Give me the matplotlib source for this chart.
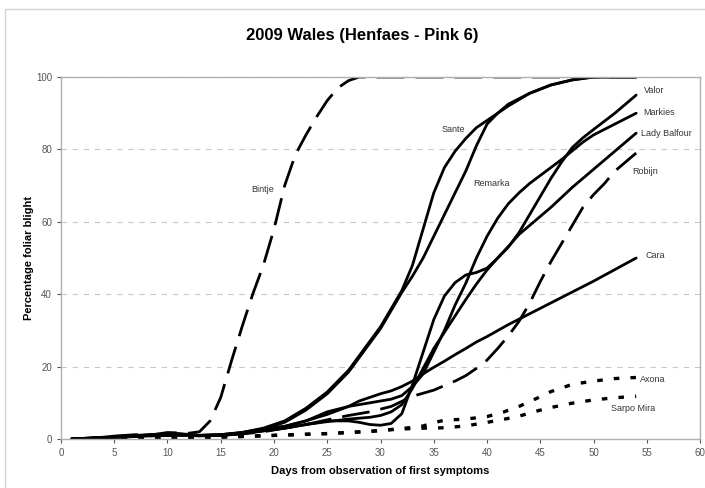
import matplotlib
matplotlib.use("Agg")
from matplotlib import pyplot as plt
from matplotlib.patches import Rectangle

plt.rcParams['font.family'] = ['Liberation Sans', 'DejaVu Sans']
plt.rcParams['lines.scale_dashes'] = False

# Days after first symptoms and blight (%) per variety
early_days = [1, 3, 5, 7, 9, 11, 13, 15, 17, 19]

sante_days = early_days + [21, 23, 25, 27, 29, 30, 31, 32, 33, 34, 35, 36, 37, 38, 39, 40, 42, 44, 46, 48, 50, 54]
sante = [0, 0.2, 0.5, 0.8, 1.0, 1.1, 1.0, 1.2, 1.8, 3.0,
         5, 8.5, 13, 19, 27, 31, 36, 41, 48, 58, 68, 75, 79.5, 83, 86, 88, 92, 95.5, 97.8, 99.2, 100, 100]

remarka_days = early_days + [21, 23, 25, 27, 29, 30, 31, 32, 33, 34, 35, 36, 37, 38, 39, 40, 41, 42, 44, 46, 48, 50, 54]
remarka = [0, 0.2, 0.6, 0.9, 1.2, 1.3, 1.0, 1.1, 1.7, 2.8,
           4.6, 8, 12.5, 18.5, 26.5, 30.5, 35.5, 40.5, 45, 50, 56, 62, 68, 74, 81, 87, 90, 92.5, 95.5, 97.8, 99.2, 100, 100]

valor_days = early_days + [21, 23, 25, 27, 28, 29, 30, 31, 32, 33, 34, 35, 36, 37, 38, 39, 40, 41, 42, 43, 44, 45, 46, 47, 48, 49, 50, 52, 54]
valor = [0, 0.2, 0.5, 0.8, 1.0, 1.0, 0.9, 1.0, 1.5, 2.2,
         3, 4, 5, 5, 4.6, 4, 3.8, 4.3, 7, 15, 24, 33, 39.5, 43.2, 45.3, 46, 47.2, 50, 53, 57, 62, 67, 72, 76.5, 80.5, 83.2, 85.5, 90, 95]

markies_days = early_days + [21, 23, 25, 27, 29, 30, 31, 32, 33, 34, 35, 36, 37, 38, 39, 40, 41, 42, 43, 44, 45, 46, 47, 48, 49, 50, 52, 54]
markies = [0, 0.3, 0.7, 1.0, 1.3, 1.5, 1.0, 1.1, 1.6, 2.6,
           3.5, 5, 7.5, 9, 10, 10.5, 11, 12, 14.5, 18, 24, 30, 37, 43, 50, 56, 61, 65, 68, 70.6, 72.8, 75, 77.2, 79.6, 82, 84, 87, 90]

balfour_days = early_days + [21, 23, 25, 27, 29, 30, 31, 32, 33, 34, 35, 36, 37, 38, 39, 40, 41, 42, 43, 44, 46, 48, 50, 52, 54]
balfour = [0, 0.2, 0.5, 0.7, 1.0, 1.2, 0.9, 1.0, 1.5, 2.3,
           3, 4, 4.8, 5.5, 6, 6.5, 7.5, 9.5, 14, 19.5, 25, 29.5, 34, 38.5, 42.8, 46.7, 50, 53.2, 56.5, 59, 64, 69.5, 74.5, 79.5, 84.5]

cara_days = early_days + [21, 23, 25, 27, 28, 29, 30, 31, 32, 33, 34, 35, 36, 37, 38, 39, 40, 42, 44, 46, 48, 50, 52, 54]
cara = [0, 0.3, 0.6, 0.9, 1.2, 1.4, 1.0, 1.2, 1.8, 2.8,
        3.5, 5, 6.8, 9, 10.5, 11.5, 12.5, 13.3, 14.5, 16, 18, 19.8, 21.5, 23.3, 25, 26.8, 28.3, 31.6, 34.6, 37.6, 40.6, 43.6, 46.8, 50]

robijn_days = early_days + [21, 23, 25, 27, 29, 31, 33, 35, 37, 38, 39, 40, 41, 42, 43, 44, 45, 46, 47, 48, 49, 50, 51, 52, 53, 54]
robijn = [0, 0.2, 0.4, 0.7, 0.9, 1.0, 0.9, 1.0, 1.4, 2.0,
          3, 4, 5.3, 6.5, 7.5, 9, 11.8, 13.5, 16, 17.5, 19.5, 21.8, 25, 28.5, 32.5, 37.5, 43.5, 49, 54, 59, 64, 67.5, 70.5, 74, 76.5, 79]

bintje_days = [1, 3, 5, 7, 8, 10, 12, 13, 14, 15, 16, 17, 18, 19, 20, 21, 22, 23, 24, 25, 26, 27, 28, 30, 54]
bintje = [0, 0.3, 0.8, 1.2, 0.9, 1.8, 1.6, 2, 5, 11.5, 21.5, 31, 40, 48, 58, 70, 78.5, 84, 89, 93.5, 97, 99, 100, 100, 100]

axona_days = [1, 5, 10, 13, 15, 17, 19, 21, 23, 25, 27, 29, 31, 33, 34, 35, 36, 38, 40, 41.5, 43, 44.5, 46, 48, 50, 52, 54]
axona = [0, 0.2, 0.2, 0.3, 0.5, 0.7, 0.9, 1.1, 1.3, 1.5, 1.8, 2.1, 2.6, 3.2, 3.6, 4.5, 5.2, 5.5, 6.2, 7.4, 9, 11, 13.1, 15.1, 16, 16.7, 17]

sarpo_days = [1, 5, 10, 13, 15, 17, 19, 21, 23, 25, 27, 29, 31, 33, 34, 36, 38, 40, 41.5, 43, 44.5, 46, 48, 50, 52, 54]
sarpo = [0, 0.2, 0.2, 0.3, 0.5, 0.7, 0.9, 1.1, 1.3, 1.5, 1.8, 2.1, 2.6, 2.9, 3, 3.1, 3.6, 4.6, 5.4, 6.3, 7.6, 8.7, 9.9, 10.8, 11.4, 11.8]

yticks = [0, 20, 40, 60, 80, 100]
xticks = list(range(0, 61, 5))

fig = plt.figure(figsize=(7.05, 4.88), dpi=100)
ax = fig.add_axes([0.0865, 0.1004, 0.9065, 0.7418])

solid = dict(color='black', lw=2.0, solid_capstyle='round', solid_joinstyle='round')
long_dash = dict(color='black', lw=2.0, linestyle=(0, (20, 8)))
dotted = dict(color='black', lw=2.4, linestyle=(0, (4, 8)))

ax.plot(sante_days, sante, **solid)
ax.plot(remarka_days, remarka, **solid)
ax.plot(valor_days, valor, **solid)
ax.plot(markies_days, markies, **solid)
ax.plot(balfour_days, balfour, **solid)
ax.plot(cara_days, cara, **solid)
ax.plot(robijn_days, robijn, **long_dash)
ax.plot(bintje_days, bintje, **long_dash)
ax.plot(axona_days, axona, **dotted)
ax.plot(sarpo_days, sarpo, **dotted)

# Variety names next to the curves
lbl = dict(fontsize=6.5, color='#333333', va='center')
ax.text(54.7, 96.4, 'Valor', **lbl)
ax.text(54.7, 90.3, 'Markies', **lbl)
ax.text(54.5, 84.5, 'Lady Balfour', **lbl)
ax.text(53.6, 73.8, 'Robijn', **lbl)
ax.text(54.9, 50.6, 'Cara', **lbl)
ax.text(54.4, 16.3, 'Axona', **lbl)
ax.text(51.6, 8.3, 'Sarpo Mira', **lbl)
ax.text(36.8, 85.4, 'Sante', ha='center', **lbl)
ax.text(40.4, 70.7, 'Remarka', ha='center', **lbl)
ax.text(18.9, 68.8, 'Bintje', ha='center', **lbl)

ax.set_xlim(0, 60)
ax.set_ylim(0, 100)
ax.set_xticks(xticks)
ax.set_yticks(yticks)
ax.tick_params(labelsize=7, colors='#555555', length=3, width=0.8)
ax.yaxis.grid(True, color='#c8c8c8', lw=0.8, linestyle=(0, (4, 4)))
ax.set_axisbelow(True)
for sp in ax.spines.values():
    sp.set_color('#b0b0b0')
    sp.set_linewidth(1.0)

ax.set_xlabel('Days from observation of first symptoms', fontsize=8, fontweight='bold', labelpad=6)
ax.set_ylabel('Percentage foliar blight', fontsize=8, fontweight='bold', labelpad=1)
fig.text(0.514, 0.928, '2009 Wales (Henfaes - Pink 6)', ha='center', va='center',
         fontsize=12, fontweight='bold')

# Light frame around the chart area
fig.patches.append(Rectangle((5 / 705, -0.05), 1.1, 1 - 9 / 488 + 0.05,
                             transform=fig.transFigure, fill=False,
                             edgecolor='#d4d4d4', lw=1.0))

fig.savefig('out.png', dpi=100)
